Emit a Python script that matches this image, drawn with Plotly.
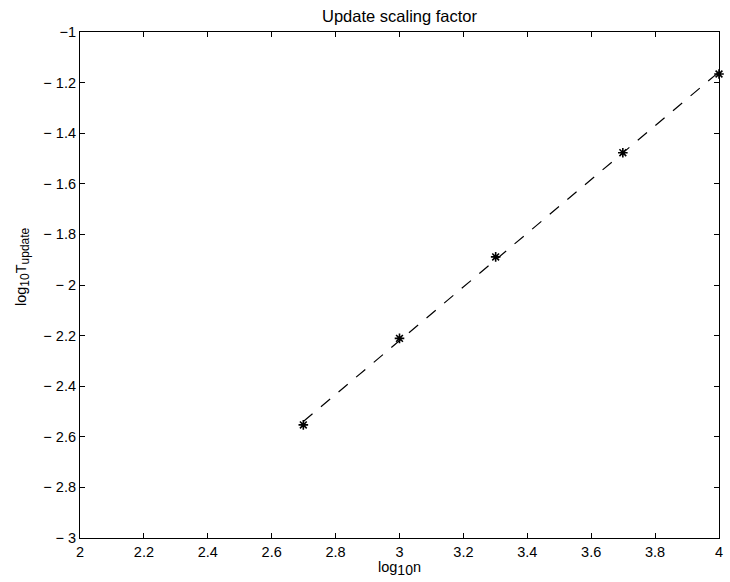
import numpy as np
import plotly.graph_objects as go

# Measured update times (log10 scale) against problem size n
log_n = [2.699, 3.0, 3.301, 3.699, 4.0]
log_t_update = [-2.553, -2.211, -1.889, -1.477, -1.166]

x_ticks = [2.0, 2.2, 2.4, 2.6, 2.8, 3.0, 3.2, 3.4, 3.6, 3.8, 4.0]
x_tick_text = ["2", "2.2", "2.4", "2.6", "2.8", "3", "3.2", "3.4", "3.6", "3.8", "4"]
y_ticks = [-1.0, -1.2, -1.4, -1.6, -1.8, -2.0, -2.2, -2.4, -2.6, -2.8, -3.0]
y_tick_text = ["\u22121", "\u2212 1.2", "\u2212 1.4", "\u2212 1.6", "\u2212 1.8", "\u2212 2",
               "\u2212 2.2", "\u2212 2.4", "\u2212 2.6", "\u2212 2.8", "\u2212 3"]

# Least-squares line through the measurements
slope, intercept = np.polyfit(log_n, log_t_update, 1)
fit_x = [log_n[0], log_n[-1]]
fit_y = [slope * v + intercept for v in fit_x]

FONT = "Liberation Sans, Arial, Helvetica, sans-serif"
FS = 14.5


def sub(txt, size):
    return '<sub><span style="font-size:%spx">%s</span></sub>' % (size, txt)


fig = go.Figure()
fig.add_trace(go.Scatter(
    x=fit_x, y=fit_y, mode="lines",
    line=dict(color="black", width=1.2, dash="12px,11px"),
    showlegend=False, hoverinfo="skip",
))
fig.add_trace(go.Scatter(
    x=log_n, y=log_t_update, mode="markers",
    marker=dict(symbol="asterisk-open", size=8, color="black",
                line=dict(color="black", width=1.6)),
    showlegend=False, cliponaxis=False,
))

axis_common = dict(
    showgrid=False, zeroline=False, showline=True, linecolor="black",
    linewidth=1.2, mirror="ticks", ticks="inside", ticklen=5,
    tickcolor="black", tickwidth=1,
    tickfont=dict(family=FONT, size=FS, color="black"),
)
fig.update_xaxes(range=[2, 4], tickvals=x_ticks, ticktext=x_tick_text, **axis_common)
fig.update_yaxes(range=[-3, -1], tickvals=y_ticks, ticktext=y_tick_text, **axis_common)

fig.update_layout(
    width=730, height=582,
    margin=dict(l=80, r=7, t=32, b=44),
    paper_bgcolor="white", plot_bgcolor="white",
    font=dict(family=FONT, size=FS, color="black"),
    annotations=[
        dict(text="Update scaling factor", xref="paper", yref="paper",
             x=0.5, y=1, xanchor="center", yanchor="middle", yshift=16,
             showarrow=False, font=dict(family=FONT, size=16.5, color="black")),
        dict(text="log" + sub("10", 14) + "n", xref="paper", yref="paper",
             x=0.5, y=0, xanchor="center", yanchor="middle", yshift=-30,
             showarrow=False, font=dict(family=FONT, size=FS, color="black")),
        dict(text="log" + sub("10", 12) + "T" + sub("update", 12),
             xref="paper", yref="paper",
             x=0, y=0.5, xanchor="center", yanchor="middle", xshift=-58, yshift=18,
             textangle=-90, showarrow=False,
             font=dict(family=FONT, size=FS, color="black")),
    ],
)

fig.write_html("out.html")
